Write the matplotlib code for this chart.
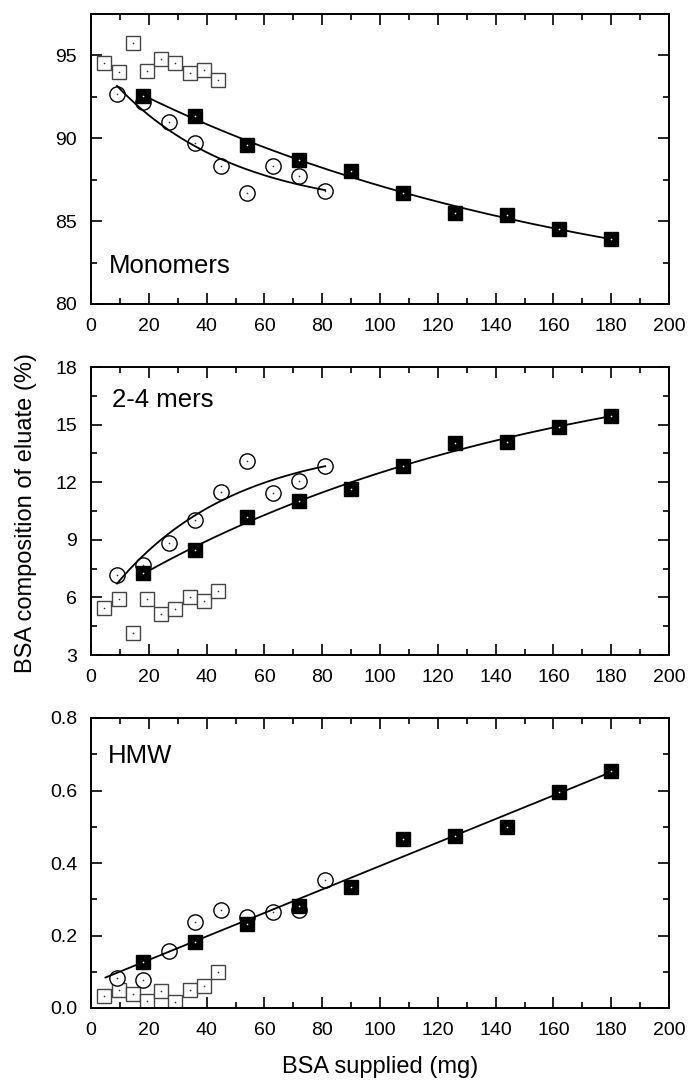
import numpy as np
import matplotlib
matplotlib.use("Agg")
import matplotlib.pyplot as plt
from matplotlib.ticker import MultipleLocator, FormatStrFormatter

plt.rcParams['font.family'] = ['Liberation Sans', 'DejaVu Sans']

# ---------------- data ----------------
x_filled = [18, 36, 54, 72, 90, 108, 126, 144, 162, 180]
x_circle = [9, 18, 27, 36, 45, 54, 63, 72, 81]
x_open = [4.6, 9.6, 14.5, 19.4, 24.3, 29.2, 34.1, 39.0, 43.9]

mono_filled = [92.55, 91.33, 89.6, 88.69, 88.03, 86.68, 85.47, 85.39, 84.54, 83.9]
mono_circle = [92.7, 92.2, 91.0, 89.7, 88.3, 86.7, 88.3, 87.7, 86.8]
mono_open = [94.52, 93.98, 95.77, 94.08, 94.78, 94.56, 93.92, 94.1, 93.52]

mers_filled = [7.26, 8.47, 10.17, 11.04, 11.65, 12.84, 14.06, 14.11, 14.89, 15.45]
mers_circle = [7.17, 7.69, 8.82, 10.03, 11.47, 13.1, 11.45, 12.06, 12.86]
mers_open = [5.43, 5.92, 4.17, 5.9, 5.14, 5.41, 6.0, 5.83, 6.35]

hmw_filled = [0.128, 0.181, 0.232, 0.282, 0.333, 0.465, 0.475, 0.500, 0.597, 0.655]
hmw_circle = [0.082, 0.077, 0.157, 0.236, 0.27, 0.252, 0.264, 0.27, 0.353]
hmw_open = [0.033, 0.05, 0.038, 0.02, 0.047, 0.017, 0.05, 0.061, 0.098]

panel_labels = ["Monomers", "2-4 mers", "HMW"]
x_ticks = list(range(0, 201, 20))

# ---------------- figure ----------------
fig = plt.figure(figsize=(6.89, 10.8), dpi=100)
left, right = 91 / 689, 669 / 689
rects = [(304, 14), (655, 367), (1008, 718)]  # (bottom px, top px)
axes = []
for b, t in rects:
    ax = fig.add_axes([left, 1 - b / 1080, right - left, (b - t) / 1080])
    axes.append(ax)


def style(ax, ylim, ymaj, ymin, fmt):
    ax.set_xlim(0, 200)
    ax.set_ylim(*ylim)
    ax.set_xticks(x_ticks)
    ax.xaxis.set_minor_locator(MultipleLocator(10))
    ax.yaxis.set_major_locator(MultipleLocator(ymaj))
    ax.yaxis.set_minor_locator(MultipleLocator(ymin))
    ax.yaxis.set_major_formatter(FormatStrFormatter(fmt))
    ax.tick_params(which='both', direction='in', top=True, right=True,
                   width=1.2, labelsize=14, pad=10, color='black')
    ax.tick_params(which='major', length=8)
    ax.tick_params(which='minor', length=4.3)
    for s in ax.spines.values():
        s.set_linewidth(1.4)


def exp_fit(x, y):
    """Least-squares fit of y = a + b*exp(-x/t) (grid search on t)."""
    x = np.asarray(x, float)
    y = np.asarray(y, float)
    best = None
    for t in np.linspace(5, 1500, 3000):
        A = np.column_stack([np.ones_like(x), np.exp(-x / t)])
        coef, *_ = np.linalg.lstsq(A, y, rcond=None)
        r = np.sum((A @ coef - y) ** 2)
        if best is None or r < best[0]:
            best = (r, t, coef)
    _, t, coef = best
    return lambda xx: coef[0] + coef[1] * np.exp(-np.asarray(xx) / t)


def lin_fit(x, y):
    c = np.polyfit(x, y, 1)
    return lambda xx: np.polyval(c, xx)


def draw(ax, filled, circle, opn, fits):
    ax.plot(x_open, opn, ls='none', marker='s', ms=10, mfc='white',
            mec='#454545', mew=1.0, zorder=2)
    ax.plot(x_open, opn, ls='none', marker='o', ms=1.2, mfc='#303030',
            mec='none', zorder=2.1)
    ax.plot(x_circle, circle, ls='none', marker='o', ms=11, mfc='white',
            mec='black', mew=1.0, zorder=3)
    ax.plot(x_circle, circle, ls='none', marker='o', ms=1.2, mfc='#303030',
            mec='none', zorder=3.1)
    for f, x0, x1 in fits:
        xx = np.linspace(x0, x1, 200)
        ax.plot(xx, f(xx), color='black', lw=1.3, zorder=4)
    ax.plot(x_filled, filled, ls='none', marker='s', ms=10, mfc='black',
            mec='black', zorder=5)
    ax.plot(x_filled, filled, ls='none', marker='o', ms=1.2, mfc='white',
            mec='none', zorder=5.1)


ax1, ax2, ax3 = axes
style(ax1, (80, 97.5), 5, 2.5, '%g')
draw(ax1, mono_filled, mono_circle, mono_open,
     [(exp_fit(x_filled, mono_filled), 18, 180),
      (exp_fit(x_circle, mono_circle), 9, 81)])

style(ax2, (3, 18), 3, 1.5, '%g')
draw(ax2, mers_filled, mers_circle, mers_open,
     [(exp_fit(x_filled, mers_filled), 18, 180),
      (exp_fit(x_circle, mers_circle), 9, 81)])

style(ax3, (0, 0.8), 0.2, 0.1, '%.1f')
draw(ax3, hmw_filled, hmw_circle, hmw_open,
     [(lin_fit(x_filled + x_circle, hmw_filled + hmw_circle), 5, 180)])

label_pos = [(0.031, 0.107), (0.036, 0.862), (0.029, 0.845)]
for ax, lab, (tx, ty) in zip(axes, panel_labels, label_pos):
    ax.text(tx, ty, lab, transform=ax.transAxes, fontsize=18.5,
            ha='left', va='baseline')

fig.text(0.038, 1 - 513 / 1080, 'BSA composition of eluate (%)', rotation=90,
         ha='center', va='center', fontsize=17)
fig.text((left + right) / 2, 1 - 1067 / 1080, 'BSA supplied (mg)',
         ha='center', va='center', fontsize=17)

fig.savefig('out.png', dpi=100)
